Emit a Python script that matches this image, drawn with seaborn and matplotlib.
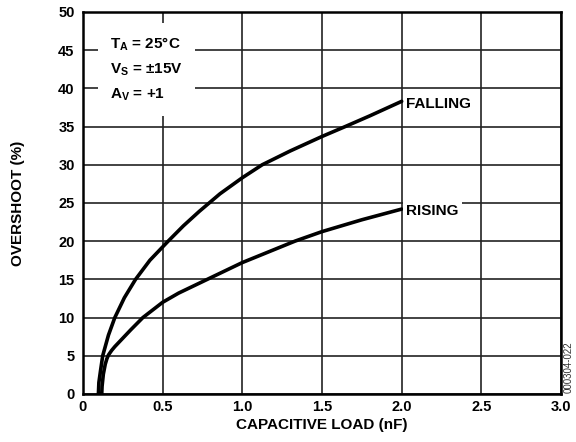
import matplotlib
matplotlib.use("Agg")
import matplotlib.pyplot as plt
import seaborn as sns
import pandas as pd

# Data
falling_x = [0.097, 0.10, 0.11, 0.124, 0.16, 0.20, 0.26, 0.33, 0.42, 0.53, 0.63, 0.73, 0.86, 1.0, 1.125, 1.3, 1.5, 1.646, 1.8, 2.0]
falling_y = [0, 1.5, 3, 5, 7.7, 10, 12.6, 15, 17.5, 19.9, 22.0, 23.9, 26.2, 28.3, 30, 31.8, 33.7, 35, 36.4, 38.3]

rising_x = [0.118, 0.12, 0.128, 0.14, 0.15, 0.16, 0.18, 0.20, 0.25, 0.30, 0.376, 0.5, 0.6, 0.78, 1.0, 1.33, 1.5, 1.75, 2.0]
rising_y = [0, 1, 2.6, 3.9, 4.6, 5.1, 5.7, 6.2, 7.3, 8.4, 10, 12, 13.2, 15, 17.2, 20, 21.25, 22.8, 24.2]

x_ticks = [0, 0.5, 1.0, 1.5, 2.0, 2.5, 3.0]
x_tick_labels = ["0", "0.5", "1.0", "1.5", "2.0", "2.5", "3.0"]
y_ticks = [0, 5, 10, 15, 20, 25, 30, 35, 40, 45, 50]

sns.set_theme(style="white")
plt.rcParams["font.family"] = ["Liberation Sans", "DejaVu Sans"]
plt.rcParams["font.weight"] = "bold"
plt.rcParams["mathtext.fontset"] = "custom"
plt.rcParams["mathtext.rm"] = "Liberation Sans:bold"
plt.rcParams["mathtext.bf"] = "Liberation Sans:bold"
plt.rcParams["mathtext.it"] = "Liberation Sans:bold"

fig = plt.figure(figsize=(5.76, 4.42), dpi=100)
ax = fig.add_axes([0.144, 0.1086, 0.830, 0.8644])

df_f = pd.DataFrame({"x": falling_x, "y": falling_y})
df_r = pd.DataFrame({"x": rising_x, "y": rising_y})
sns.lineplot(data=df_f, x="x", y="y", ax=ax, color="black", linewidth=2.6, sort=False, zorder=3)
sns.lineplot(data=df_r, x="x", y="y", ax=ax, color="black", linewidth=2.6, sort=False, zorder=3)

ax.set_xlim(0, 3.0)
ax.set_ylim(0, 50)
ax.set_xticks(x_ticks)
ax.set_xticklabels(x_tick_labels)
ax.set_yticks(y_ticks)
ax.grid(True, color="#222222", linewidth=1.2)
ax.set_axisbelow(True)
for s in ax.spines.values():
    s.set_color("black")
    s.set_linewidth(1.8)
ax.tick_params(axis="both", length=0, labelsize=10.5, colors="black")
ax.tick_params(axis="x", pad=4)
ax.tick_params(axis="y", pad=6)
for lab in ax.get_xticklabels() + ax.get_yticklabels():
    lab.set_fontweight("bold")

ax.set_xlabel("CAPACITIVE LOAD (nF)", fontsize=11, fontweight="bold", color="black", labelpad=3)
ax.set_ylabel("OVERSHOOT (%)", fontsize=11, fontweight="bold", color="black", labelpad=24)

ax.text(0.17, 42.5, "T$_\\mathregular{A}$ = 25°C\nV$_\\mathregular{S}$ = ±15V\nA$_\\mathregular{V}$ = +1",
        fontsize=11, fontweight="bold", color="black", ha="left", va="center", linespacing=1.75,
        zorder=4, bbox=dict(boxstyle="square,pad=0.8", facecolor="white", edgecolor="none"))

ax.text(2.03, 38.0, "FALLING", fontsize=11, fontweight="bold", color="black", ha="left", va="center",
        zorder=4, bbox=dict(boxstyle="square,pad=0.05", facecolor="white", edgecolor="none"))
ax.text(2.03, 23.9, "RISING", fontsize=11, fontweight="bold", color="black", ha="left", va="center",
        zorder=4, bbox=dict(boxstyle="square,pad=0.2", facecolor="white", edgecolor="none"))

fig.text(0.988, 0.17, "000304-022", rotation=90, fontsize=7, fontweight="normal", color="#333333",
         ha="center", va="center")

fig.savefig("out.png", dpi=100)
